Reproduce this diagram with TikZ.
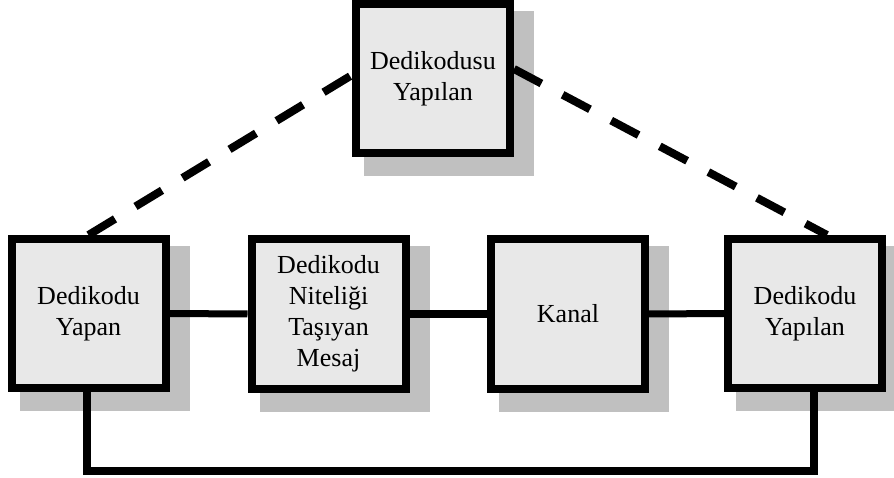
\documentclass[tikz,border=0pt]{standalone}
\usepackage{fontspec}
\setmainfont{Liberation Serif}
\usetikzlibrary{backgrounds}

\definecolor{boxfill}{HTML}{E8E8E8}
\definecolor{shadefill}{HTML}{C0C0C0}

\begin{document}
\begin{tikzpicture}[x=1pt,y=1pt,
    box/.style={draw,line width=8pt,fill=boxfill,minimum width=154pt,
      minimum height=149pt,inner sep=0pt,align=center,
      font=\fontsize{26}{31}\selectfont},
    link/.style={line width=7pt},
    gossip/.style={line width=8pt,dash pattern=on 31pt off 24pt}]

      \useasboundingbox (0,0) rectangle (894,477);

      \begin{scope}[every node/.style={box}]
        \node (konu)    at (433,398)   {Dedikodusu\\Yap\i lan};
        \node (yapan)   at (88.5,163.5) {Dedikodu\\Yapan};
        \node (mesaj)   at (328.5,163) {Dedikodu\\Niteliği\\Taşıyan\\Mesaj};
        \node (kanal)   at (568,163)   {Kanal};
        \node (yapilan) at (805,163.5) {Dedikodu\\Yap\i lan};
      \end{scope}

      \begin{scope}[on background layer]
        \foreach \n in {konu,yapan,mesaj,kanal,yapilan}
          \fill[shadefill] ([shift={(12,-19)}]\n.south west)
            rectangle ([shift={(20,-11)}]\n.north east);
      \end{scope}

      \draw[link] (yapan) -- (mesaj);
      \draw[link] (mesaj) -- (kanal);
      \draw[link] (kanal) -- (yapilan);
      \draw[link,line width=8pt] ([xshift=-2]yapan.south) -- ++(0,-79)
        -| ([xshift=9]yapilan.south);

      \draw[gossip] (yapan.north) -- ([yshift=4]konu.west);
      \draw[gossip] ([yshift=10]konu.east) -- ([xshift=22]yapilan.north);

    \end{tikzpicture}
\end{document}
